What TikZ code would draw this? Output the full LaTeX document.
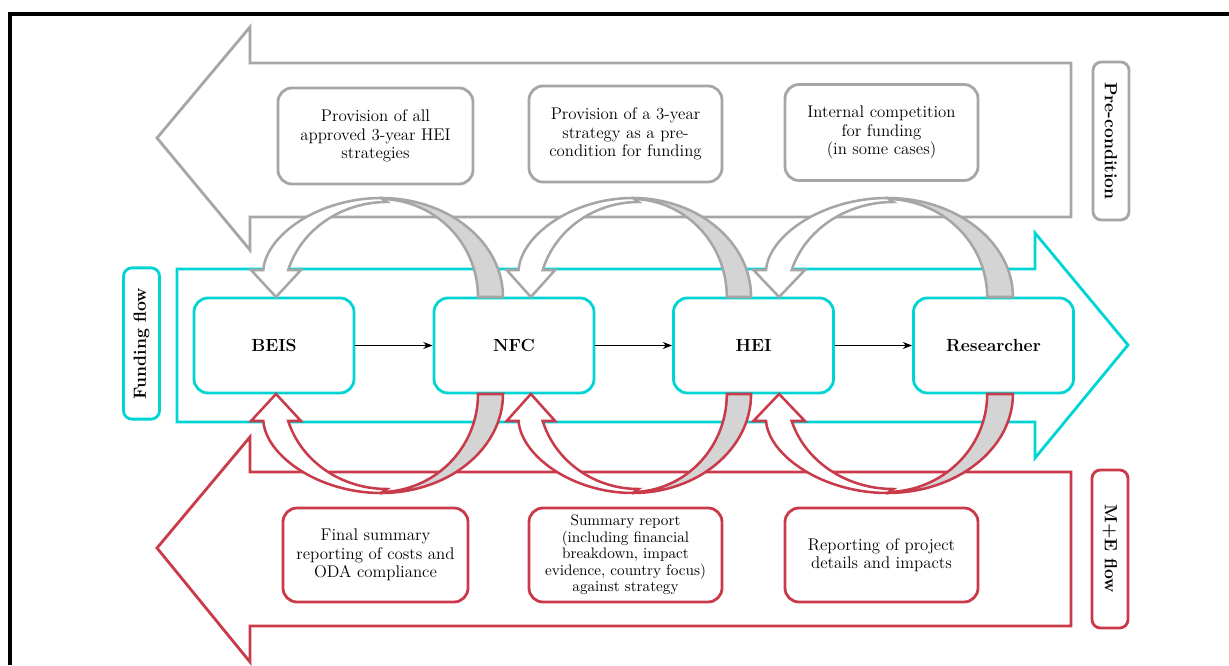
\documentclass[tikz,border=0pt]{standalone}
\usepackage{tikz}
\usetikzlibrary{arrows.meta,positioning}
\definecolor{nfgray}{HTML}{A6A6A6}
\definecolor{nfshade}{HTML}{D4D4D4}
\definecolor{nfcyan}{HTML}{00D4D4}
\definecolor{nfred}{HTML}{C93A4A}

\begin{document}
\begin{tikzpicture}[x=0.025cm, y=0.025cm, line join=miter, >=Stealth,
  bigline/.style={line width=2pt, fill=white},
  bandline/.style={line width=1.8pt},
  flowbox/.style={draw=nfcyan, line width=2pt, fill=white, rounded corners=10pt,
    minimum width=4cm, minimum height=2.375cm,
    font=\bfseries\fontsize{12.5}{14}\selectfont},
  notebox/.style={line width=2pt, fill=white, rounded corners=10pt,
    minimum height=2.4cm, align=center,
    font=\fontsize{12}{13}\selectfont},
  sidebox/.style={line width=2pt, fill=white, rounded corners=6pt,
    minimum width=3.95cm, minimum height=0.9cm,
    font=\bfseries\fontsize{12.5}{14}\selectfont}]
  \path[use as bounding box] (0,0) rectangle (1229,665);
  % frame, cut off at the right and bottom edges
  \draw[line width=2.2pt] (10,0) -- (10,651) -- (1229,651);

  % the three broad flow arrows
  \draw[bigline, draw=nfgray] (157,527) -- (250,638) -- (250,602) -- (1071,602)
    -- (1071,448) -- (250,448) -- (250,415) -- cycle;
  \draw[bigline, draw=nfcyan] (177,396) -- (1035,396) -- (1035,432) -- (1128,320)
    -- (1035,207) -- (1035,243) -- (177,243) -- cycle;
  \draw[bigline, draw=nfred] (157,117) -- (250,228) -- (250,193) -- (1071,193)
    -- (1071,39) -- (250,39) -- (250,3) -- cycle;

  % side labels
  \node[sidebox, draw=nfgray, rotate=-90] (precond) at (1111,524) {Pre-condition};
  \node[sidebox, draw=nfcyan, rotate=90, minimum width=3.78cm] (funding)
    at (141.5,321.5) {Funding flow};
  \node[sidebox, draw=nfred, rotate=-90] (meflow) at (1110,116) {M+E flow};

  % pre-condition notes
  \node[notebox, draw=nfgray, minimum width=4.875cm] (stratall) at (375.5,529)
    {Provision of all\\approved 3-year HEI\\strategies};
  \node[notebox, draw=nfgray, minimum width=4.825cm] (stratpre) at (625.5,531)
    {Provision of a 3-year\\strategy as a pre-\\condition for funding};
  \node[notebox, draw=nfgray, minimum width=4.825cm] (compete) at (881.5,532.5)
    {Internal competition\\for funding\\(in some cases)};

  % M+E notes
  \node[notebox, draw=nfred, minimum width=4.625cm, minimum height=2.35cm]
    (finalrep) at (375.5,110)
    {Final summary\\reporting of costs and\\ODA compliance};
  \node[notebox, draw=nfred, minimum width=4.825cm, minimum height=2.35cm,
    font=\fontsize{10.8}{11.8}\selectfont] (summrep) at (625.5,110)
    {Summary report\\(including financial\\breakdown, impact\\evidence, country focus)\\against strategy};
  \node[notebox, draw=nfred, minimum width=4.825cm, minimum height=2.35cm]
    (projrep) at (881.5,110)
    {Reporting of project\\details and impacts};

  % funding chain
  \node[flowbox] (beis) at (274,319.5) {BEIS};
  \node[flowbox] (nfc) at (514,319.5) {NFC};
  \node[flowbox] (hei) at (753.5,319.5) {HEI};
  \node[flowbox] (researcher) at (993.5,319.5) {Researcher};
  \draw[->, line width=0.8pt] (beis) -- (nfc);
  \draw[->, line width=0.8pt] (nfc) -- (hei);
  \draw[->, line width=0.8pt] (hei) -- (researcher);

  % bent arrows: tip at the origin, band bulging away from the boxes,
  % shaded back face at the tail end
  \foreach \tx/\sx/\ys/\col in {272/1/1/nfgray,527/0.97/1/nfgray,775/1.03/1/nfgray,
                                272/1/-1/nfred,527/0.97/-1/nfred,775/1.03/-1/nfred} {
    \begin{scope}[shift={(\tx,{\ys>0 ? 368 : 271})}, xscale=\sx, yscale=\ys]
      \filldraw[bandline, draw=\col, fill=nfshade] (231,0)
        arc[start angle=0, end angle=90, x radius=122, y radius=99]
        -- (108,98) arc[start angle=90, end angle=0, x radius=98, y radius=98]
        -- cycle;
      \filldraw[bandline, draw=\col, fill=white] (4,0) -- (29,27) -- (16.2,27)
        arc[start angle=163.5, end angle=90, x radius=103, y radius=95]
        -- (109,99) .. controls (47,99) and (-6,62) .. (-8.7,27)
        -- (-21,27) -- cycle;
    \end{scope}
  }
\end{tikzpicture}
\end{document}
